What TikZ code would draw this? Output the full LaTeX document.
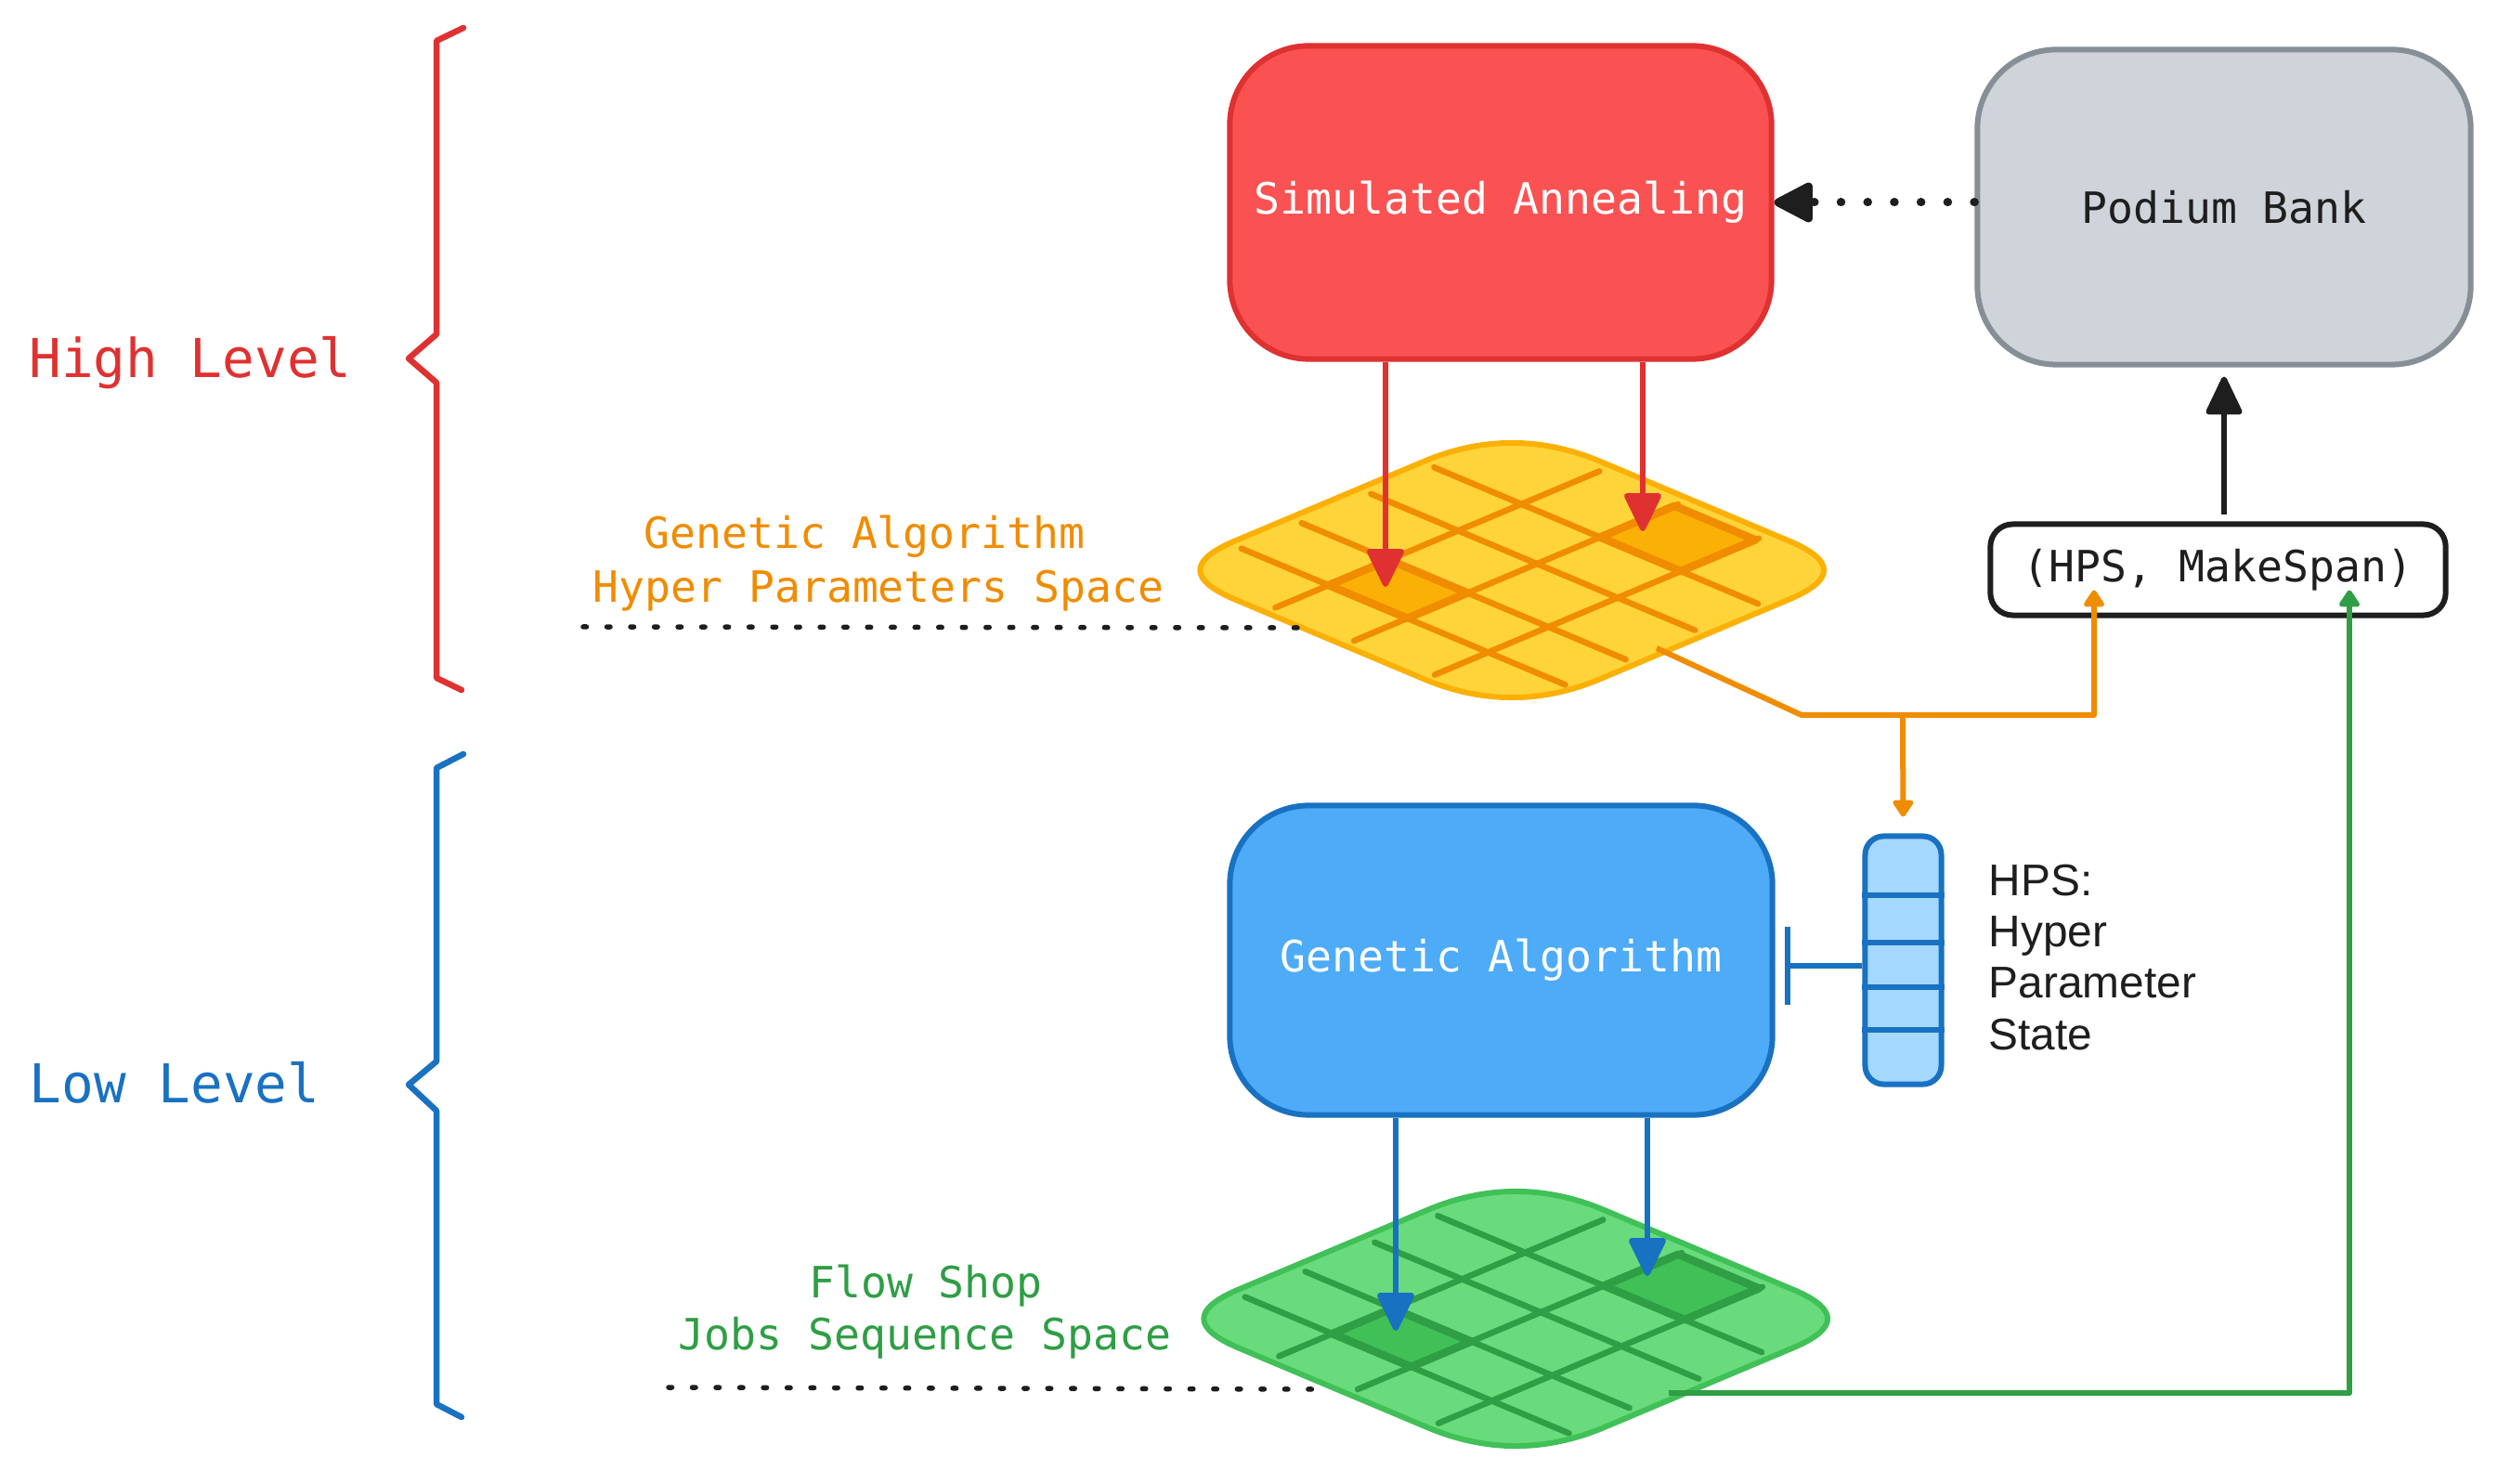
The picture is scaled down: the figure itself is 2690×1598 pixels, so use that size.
\documentclass[tikz,border=0pt]{standalone}
\usepackage{fontspec}
\setmonofont{DejaVu Sans Mono}
\newfontfamily\hpsfont{Liberation Sans}
\usetikzlibrary{arrows.meta,calc}
\definecolor{ink}{HTML}{1E1E1E}
\definecolor{redfill}{HTML}{FA5252}
\definecolor{redline}{HTML}{E03131}
\definecolor{bluefill}{HTML}{4DABF7}
\definecolor{blueline}{HTML}{1971C2}
\definecolor{lightblue}{HTML}{A5D8FF}
\definecolor{grayfill}{HTML}{CED4DA}
\definecolor{grayline}{HTML}{868E96}
\definecolor{yelfill}{HTML}{FFD43B}
\definecolor{yelline}{HTML}{FAB005}
\definecolor{orangeink}{HTML}{F08C00}
\definecolor{grnfill}{HTML}{69DB7C}
\definecolor{grnline}{HTML}{40C057}
\definecolor{grnink}{HTML}{2F9E44}

\newcommand{\rhombpath}{(0.2,0) -- (0.745,0) .. controls (0.915,0) and (1,0.085) .. (1,0.255) -- (1,0.8) .. controls (1,0.9333) and (0.9333,1) .. (0.8,1) -- (0.255,1) .. controls (0.085,1) and (0,0.915) .. (0,0.745) -- (0,0.2) .. controls (0,0.0667) and (0.0667,0) .. (0.2,0) -- cycle}
% #1 origin (left vertex), #2 fill, #3 border, #4 grid colour, #5 highlight fill
\newcommand{\gridspace}[5]{%
\begin{scope}[shift={#1}, x={(3.73cm,1.57cm)}, y={(3.73cm,-1.57cm)}]
 \fill[#2] \rhombpath;
 \foreach \gu in {0.184,0.358,0.558,0.74}
   \draw[#4, line width=0.065cm, line cap=round] (\gu,0.035) -- (\gu,0.97);
 \foreach \gv in {0.287,0.514,0.747}
   \draw[#4, line width=0.065cm, line cap=round] (0.03,\gv) -- (0.965,\gv);
 \filldraw[fill=#5, draw=#4, line width=0.085cm, line join=round] (0.184,0.287) -- (0.358,0.287) -- (0.358,0.514) -- (0.184,0.514) -- cycle;
 \filldraw[fill=#5, draw=#4, line width=0.085cm, line join=round] (0.74,0.514) -- (0.955,0.514) -- (0.955,0.747) -- (0.74,0.747) -- cycle;
 \draw[#3, line width=0.06cm, line join=round] \rhombpath;
\end{scope}}

\begin{document}
\begin{tikzpicture}[x=0.01cm, y=-0.01cm,
  mono/.style={font=\ttfamily\fontsize{13.2pt}{15.8pt}\selectfont, inner sep=0pt},
  lvl/.style={font=\ttfamily\fontsize{16.4pt}{19pt}\selectfont, inner sep=0pt, anchor=base},
  bigbox/.style={draw, line width=0.06cm, rounded corners=0.85cm, inner sep=0pt,
     font=\ttfamily\fontsize{13.2pt}{15.8pt}\selectfont},
  arr/.style={line width=0.06cm, -{Triangle[length=0.45cm,width=0.42cm,round]}},
  smallarr/.style={line width=0.06cm, line join=round, -{Triangle[length=0.2cm,width=0.25cm,round]}},
  brace/.style={line width=0.065cm, line join=round, line cap=round},
  dots/.style={draw=ink, line width=0.055cm, line cap=round, dash pattern=on 0.035cm off 0.22cm},
]
\fill[white] (0,0) rectangle (2690,1598);
\useasboundingbox (0,0) rectangle (2690,1598);

% level braces and labels
\draw[brace, redline] (499,30) -- (470,44) -- (470,360) -- (440,386) -- (470,412) -- (470,730) -- (497,743);
\draw[brace, blueline] (499,812) -- (470,827) -- (470,1143) -- (440,1168) -- (470,1196) -- (470,1512) -- (497,1526);
\node[lvl, text=redline] (high) at (205,407) {High Level};
\node[lvl, text=blueline] (low) at (188,1188) {Low Level};

% search spaces
\gridspace{(1255,614)}{yelfill}{yelline}{orangeink}{yelline}
\gridspace{(1259,1420)}{grnfill}{grnline}{grnink}{grnline}

\node[mono, anchor=base, text=orangeink] (ylab1) at (931,591) {Genetic Algorithm};
\node[mono, anchor=base, text=orangeink] (ylab2) at (946,649) {Hyper Parameters Space};
\node[mono, anchor=base, text=grnink] (glab1) at (997,1397) {Flow Shop};
\node[mono, anchor=base, text=grnink] (glab2) at (996,1453) {Jobs Sequence Space};

\coordinate (yd1) at (628,675);
\coordinate (yd2) at (1402,676);
\coordinate (gd1) at (720,1494);
\coordinate (gd2) at (1420,1496);
\draw[dots] (yd1) -- (yd2);
\draw[dots] (gd1) -- (gd2);

% boxes
\node[bigbox, fill=redfill, draw=redline, text=white, minimum width=5.83cm, minimum height=3.37cm] (sa) at (1616,218) {Simulated Annealing};
\node[bigbox, fill=grayfill, draw=grayline, text=ink, minimum width=5.31cm, minimum height=3.39cm] (pb) at (2395,223) {Podium Bank};
\node[bigbox, fill=bluefill, draw=blueline, text=white, minimum width=5.84cm, minimum height=3.33cm] (ga) at (1616.5,1034) {Genetic Algorithm};
\node[draw=ink, line width=0.06cm, rounded corners=0.24cm, fill=white, minimum width=4.90cm, minimum height=0.98cm, mono, text=ink] (hm) at (2388.5,613.5) {(HPS, MakeSpan)};

% HPS stack
\node[draw=blueline, fill=lightblue, line width=0.06cm, rounded corners=0.2cm, minimum width=0.82cm, minimum height=2.67cm, inner sep=0pt] (stack) at (2049.5,1034) {};
\foreach \yy in {964,1015,1063,1109} {
  \coordinate (sl) at (0,\yy);
  \draw[blueline, line width=0.06cm] (stack.west |- sl) -- (stack.east |- sl);
}
\node[font=\hpsfont\fontsize{13.6pt}{15.65pt}\selectfont, text=ink, align=left, anchor=west, inner sep=0pt] (hpstxt) at (2141,1031) {HPS:\\Hyper\\Parameter\\State};

% connectors
\coordinate (yA) at (1492,632);
\coordinate (yB) at (1769,572);
\coordinate (gA) at (1503,1433);
\coordinate (gB) at (1774,1374);
\coordinate (yOut) at (1784,698);
\coordinate (oA) at (1940,770);
\coordinate (oB) at (2049,770);
\coordinate (oC) at (2255,770);
\coordinate (gOut) at (1797,1500);
\coordinate (gC) at (2530,1500);
\coordinate (tb) at (0,1040);

\draw[arr, redline] (sa.south -| yA) -- (yA);
\draw[arr, redline] (sa.south -| yB) -- (yB);
\draw[arr, blueline] (ga.south -| gA) -- (gA);
\draw[arr, blueline] (ga.south -| gB) -- (gB);

\draw[ink, line width=0.09cm, line cap=round, dash pattern=on 0.005cm off 0.282cm,
  -{Triangle[length=0.47cm,width=0.46cm,round]}] (pb.west |- sa.east) -- (sa.east);
\draw[arr, ink, shorten <=0.07cm, shorten >=0.1cm, -{Triangle[length=0.45cm,width=0.41cm,round]}] (hm.north -| pb.south) -- (pb.south);

\draw[smallarr, orangeink, shorten >=-0.3cm] (yOut) -- (oA) -- (oC) -- (hm.south -| oC);
\draw[smallarr, orangeink, shorten >=0.18cm] (oB) -- (stack.north);
\draw[smallarr, grnink, shorten >=-0.3cm] (gOut) -- (gC) -- (hm.south -| gC);

\draw[blueline, line width=0.06cm, shorten >=0.1cm, -{Bar[width=0.84cm]}] (stack.west |- tb) -- (ga.east |- tb);
\end{tikzpicture}
\end{document}
